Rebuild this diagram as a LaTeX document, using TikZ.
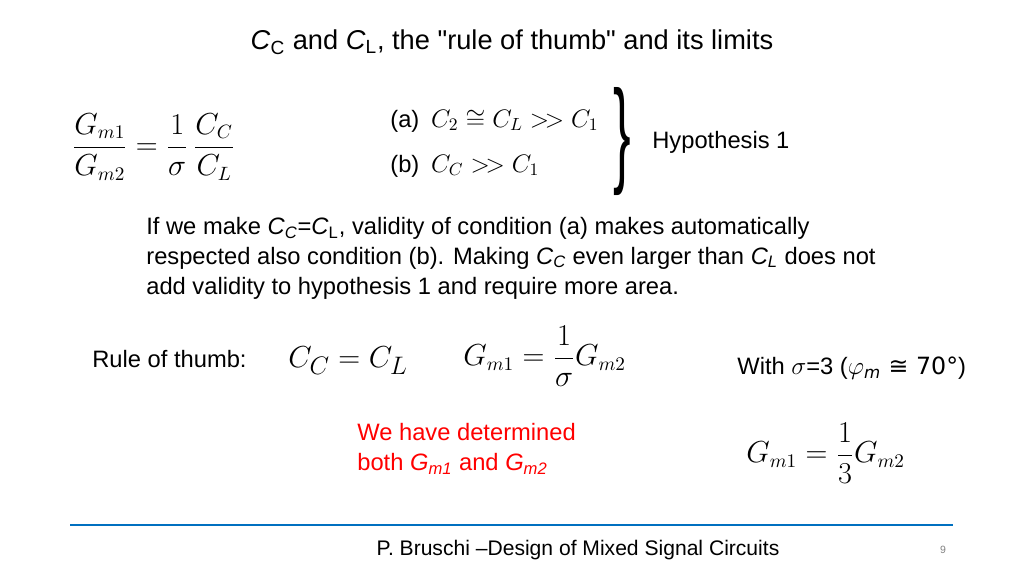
\documentclass[tikz,border=0pt]{standalone}
\usepackage{fontspec}
\setmainfont{Liberation Sans}
\newfontfamily\plainf[Ligatures=TeXOff]{Liberation Sans}
\newfontfamily\dv{DejaVu Sans}
\begin{document}
\begin{tikzpicture}[x=0.02cm,y=-0.02cm,
 txt/.style={anchor=west,inner sep=0pt,font=\fontsize{13.5}{17}\selectfont},
 eq/.style={inner sep=0pt,font=\fontsize{16}{20}\selectfont}]
\useasboundingbox (0,0) rectangle (1024,576);
\node[inner sep=0pt,font=\plainf\fontsize{15.5}{18}\selectfont] (title) at (512,42) {\textit{C}\textsubscript{C} and \textit{C}\textsubscript{L}, the "rule of thumb" and its limits};
\node[eq,anchor=west] (e1) at (72,147) {$\displaystyle\frac{G_{m1}}{G_{m2}}=\frac{1}{\sigma}\,\frac{C_C}{C_L}$};
\node[txt] (a) at (390,121) {(a)\enspace\fontsize{14}{17}\selectfont$C_2\cong C_L>\!>C_1$};
\node[txt] (b) at (390,166) {(b)\enspace\fontsize{14}{17}\selectfont$C_C>\!>C_1$};
\node[inner sep=0pt,font=\fontsize{30}{30}\selectfont,yscale=2.2] (br) at (622,142) {\}};
\node[txt] (h) at (652,142) {Hypothesis 1};
\node[txt,align=left] (p) at (146,258) {If we make \textit{C\textsubscript{C}}=\textit{C}\textsubscript{L}, validity of condition (a) makes automatically\\respected also condition (b). Making \textit{C\textsubscript{C}} even larger than \textit{C\textsubscript{L}} does not\\add validity to hypothesis 1 and require more area.};
\node[txt] (r) at (92,359) {Rule of thumb:};
\node[eq,anchor=west,font=\fontsize{19}{22}\selectfont] (cc) at (288,361) {$C_C=C_L$};
\node[eq,anchor=west] (g1) at (463,356) {$\displaystyle G_{m1}=\frac{1}{\sigma}G_{m2}$};
\node[txt] (w) at (737,368) {With $\sigma$=3 ({\dv$\varphi$\textsubscript{\textit{m}} ≅ 70°})};
\node[txt,align=left,text=red] (det) at (357,449) {We have determined\\both \textit{G\textsubscript{m1}} and \textit{G\textsubscript{m2}}};
\node[eq,anchor=west] (g2) at (746,453) {$\displaystyle G_{m1}=\frac{1}{3}G_{m2}$};
\draw[line width=1.5pt,color={rgb,255:red,0;green,112;blue,192}] (70,525) coordinate (l1) -- (953,525) coordinate (l2);
\node[inner sep=0pt,font=\fontsize{12}{14}\selectfont] (foot) at (578,550) {P. Bruschi –Design of Mixed Signal Circuits};
\node[inner sep=0pt,font=\fontsize{6}{7}\selectfont,text=gray] (n) at (943,550) {9};
\end{tikzpicture}
\end{document}
